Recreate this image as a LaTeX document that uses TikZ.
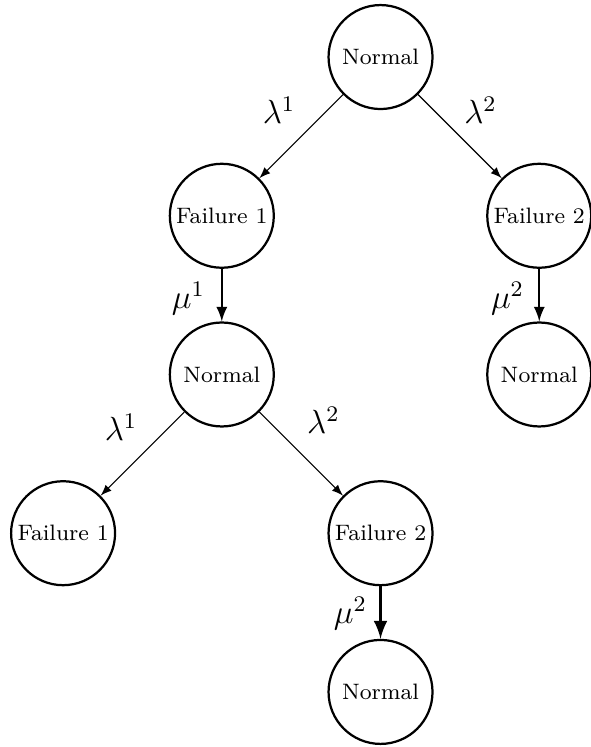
\documentclass[tikz,border=0pt]{standalone}
\usetikzlibrary{positioning}
\begin{document}
\begin{tikzpicture}[>=latex,
	zustand/.style={circle,draw,thick,minimum size=1.31cm,inner sep=0pt,font=\footnotesize},
	schraeg/.style={->,thin},
	gerade/.style={->,thick}]
\useasboundingbox (-0.795,0.719) rectangle (6.644,-8.694);
% Zustaende
\node[zustand] (n0) at (4,0) {Normal};
\node[zustand] (f1) at (2,-2) {Failure 1};
\node[zustand] (f2) at (6,-2) {Failure 2};
\node[zustand] (n1) at (2,-4) {Normal};
\node[zustand] (n2) at (6,-4) {Normal};
\node[zustand] (f11) at (0,-6) {Failure 1};
\node[zustand] (f12) at (4,-6) {Failure 2};
\node[zustand] (n12) at (4,-8) {Normal};
% Uebergaenge
\draw[schraeg] (n0) -- node[shift={(-0.28,0.33)}] {\large$\lambda^1$} (f1);
\draw[schraeg] (n0) -- node[shift={(0.26,0.33)}] {\large$\lambda^2$} (f2);
\draw[gerade] (f1) -- node[shift={(-0.42,-0.04)}] {\large$\mu^1$} (n1);
\draw[gerade] (f2) -- node[shift={(-0.40,-0.04)}] {\large$\mu^2$} (n2);
\draw[schraeg] (n1) -- node[shift={(-0.27,0.33)}] {\large$\lambda^1$} (f11);
\draw[schraeg] (n1) -- node[shift={(0.28,0.42)}] {\large$\lambda^2$} (f12);
\draw[gerade,very thick] (f12) -- node[shift={(-0.38,-0.01)}] {\large$\mu^2$} (n12);
\end{tikzpicture}
\end{document}
